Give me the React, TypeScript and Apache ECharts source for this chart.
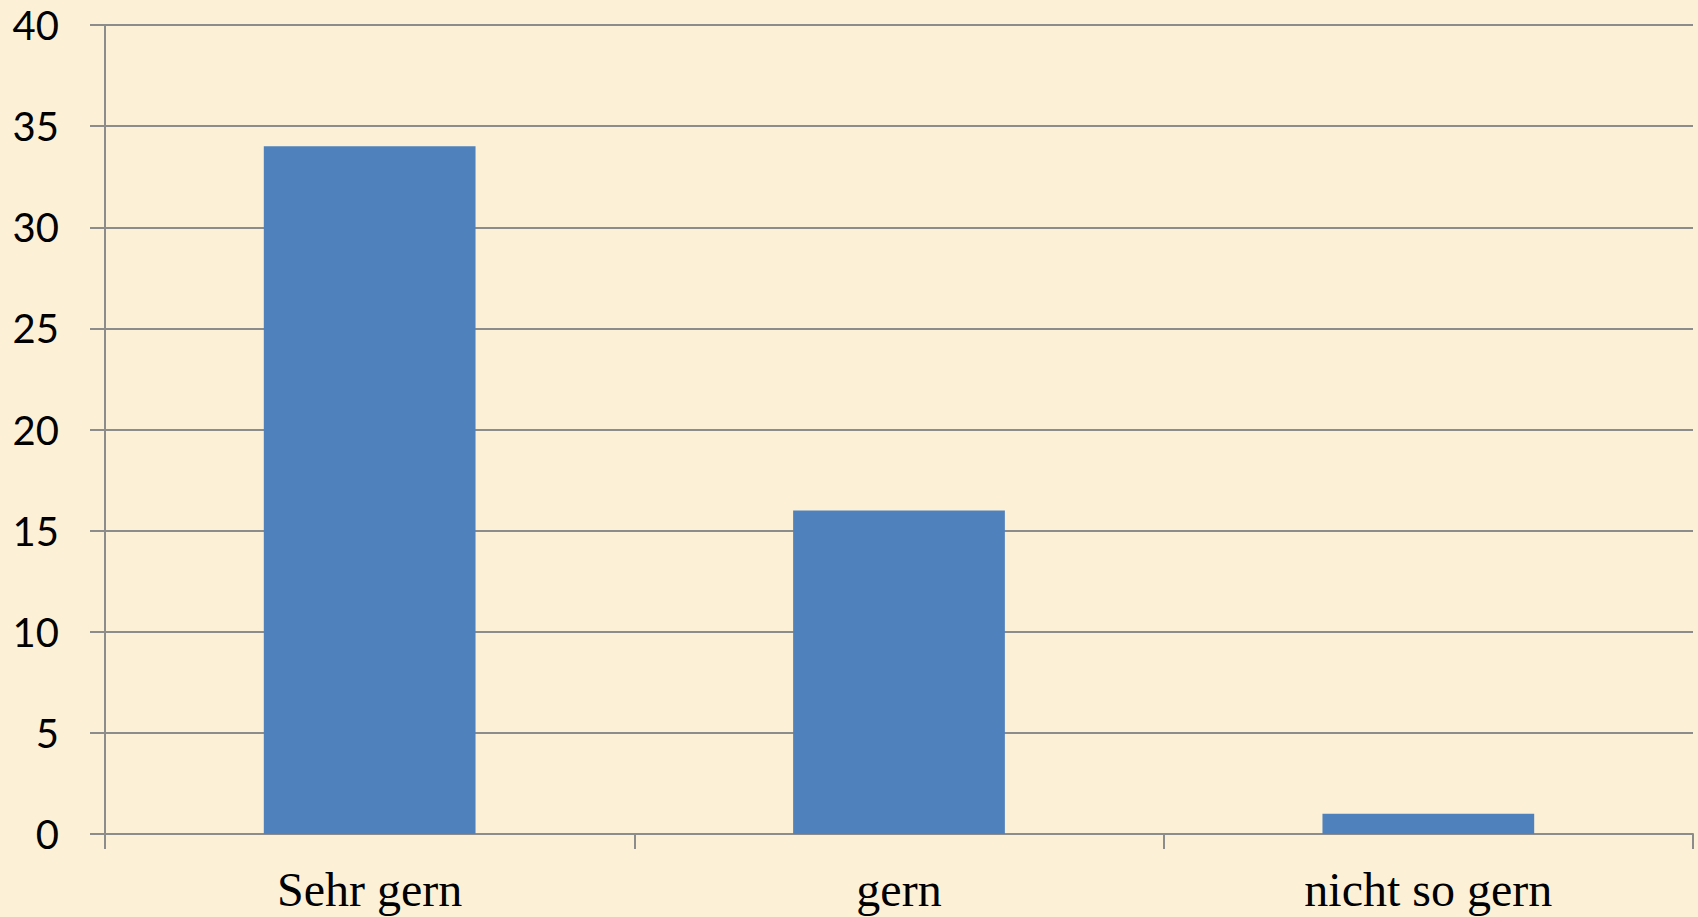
import React, { useEffect, useRef } from "react";
import * as echarts from "echarts";

const categories = ["Sehr gern", "gern", "nicht so gern"];
const values = [34, 16, 1];
const yTicks = [0, 5, 10, 15, 20, 25, 30, 35, 40];

export default function App() {
  const ref = useRef<HTMLDivElement>(null);
  useEffect(() => {
    if (!ref.current) return;
    const chart = echarts.init(ref.current, undefined, { renderer: "svg" });
    chart.setOption({
      animation: false,
      backgroundColor: "#FCF1D7",
      grid: { left: 105, right: 5, top: 25, bottom: 83, containLabel: false },
      xAxis: {
        type: "category",
        data: categories,
        axisLine: { show: true, lineStyle: { color: "#8C8C8C", width: 2 } },
        axisTick: { show: true, length: 15, lineStyle: { color: "#8C8C8C", width: 2 } },
        axisLabel: {
          color: "#000",
          fontFamily: "Liberation Serif",
          fontSize: 48,
          margin: 31,
        },
      },
      yAxis: {
        type: "value",
        min: yTicks[0],
        max: yTicks[yTicks.length - 1],
        interval: 5,
        axisLine: { show: true, lineStyle: { color: "#8C8C8C", width: 2 } },
        axisTick: { show: true, length: 15, lineStyle: { color: "#8C8C8C", width: 2 } },
        splitLine: { show: true, lineStyle: { color: "#8C8C8C", width: 2 } },
        axisLabel: {
          color: "#000",
          fontFamily: "Lato",
          fontSize: 40,
          margin: 46,
        },
      },
      series: [
        {
          type: "bar",
          data: values,
          barCategoryGap: "60%",
          itemStyle: { color: "#4F81BD" },
        },
      ],
    });
    return () => chart.dispose();
  }, []);
  return (
    <div
      ref={ref}
      style={{ position: "fixed", left: 0, top: 0, width: 1698, height: 917 }}
    />
  );
}
